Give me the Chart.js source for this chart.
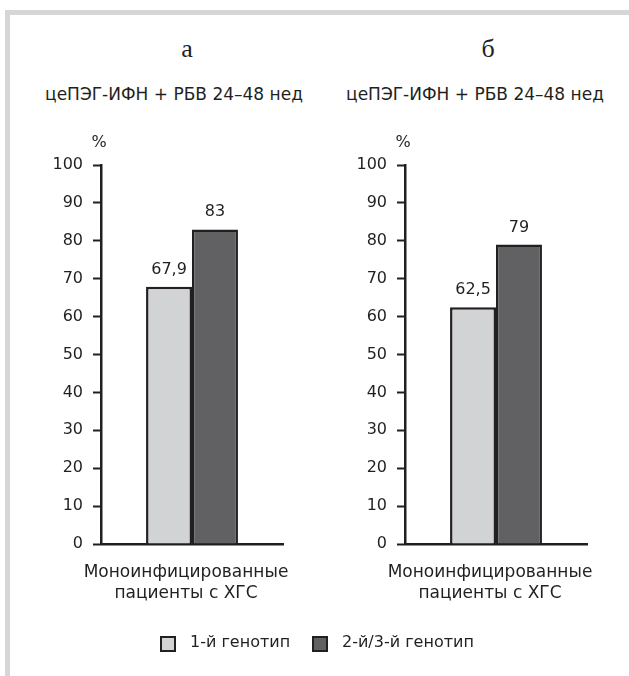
<!DOCTYPE html>
<html>
<head>
<meta charset="utf-8">
<script src="https://cdn.jsdelivr.net/npm/chart.js@4.4.1/dist/chart.umd.min.js"></script>
<style>
  body { margin: 0; background: #fff; }
  #page { position: relative; width: 629px; height: 676px; overflow: hidden; color: #231f20; font-family: "DejaVu Sans", sans-serif; }
  .frameTop { position: absolute; left: 5px; top: 10px; width: 624px; height: 5px; background: #d5d6d8; }
  .frameLeft { position: absolute; left: 5px; top: 10px; width: 5px; height: 666px; background: #d5d6d8; }
  .letter { position: absolute; top: 34px; width: 60px; text-align: center; font: 26px/29px "Liberation Serif", serif; }
  .title { position: absolute; top: 84px; width: 320px; text-align: center; font-size: 17px; line-height: 20px; white-space: nowrap; }
  canvas { position: absolute; top: 0; }
  #legend { position: absolute; left: 0; top: 632px; width: 629px; height: 20px; }
  .box { position: absolute; top: 4px; width: 12px; height: 12px; border: 2px solid #231f20; }
  .ltext { position: absolute; top: 0; font-size: 16px; line-height: 19px; white-space: nowrap; }
</style>
</head>
<body>
<div id="page">
  <div class="frameTop"></div>
  <div class="frameLeft"></div>
  <div class="letter" style="left:157px">а</div>
  <div class="letter" style="left:458px">б</div>
  <div class="title" style="left:14px">цеПЭГ-ИФН + РБВ 24–48 нед</div>
  <div class="title" style="left:315px">цеПЭГ-ИФН + РБВ 24–48 нед</div>
  <canvas id="chartA" width="300" height="676" style="left:0"></canvas>
  <canvas id="chartB" width="300" height="676" style="left:304px"></canvas>
  <div id="legend"></div>
</div>
<script>
const category = ['Моноинфицированные', 'пациенты с ХГС'];
const seriesNames = ['1-й генотип', '2-й/3-й генотип'];
const panelA = [67.9, 83];
const panelB = [62.5, 79];
const yTicks = [0, 10, 20, 30, 40, 50, 60, 70, 80, 90, 100];

const ink = '#231f20';
const fills = ['#d2d3d5', '#616163'];

// value over each bar, plus the "%" unit above the axis
const valueLabels = {
  id: 'valueLabels',
  afterDatasetsDraw(chart) {
    const ctx = chart.ctx;
    ctx.save();
    ctx.font = '16px "DejaVu Sans"';
    ctx.fillStyle = ink;
    ctx.textAlign = 'center';
    ctx.textBaseline = 'alphabetic';
    chart.data.datasets.forEach((ds, i) => {
      chart.getDatasetMeta(i).data.forEach((bar, j) => {
        ctx.fillText(String(ds.data[j]).replace('.', ','), bar.x, bar.y - 13);
      });
    });
    ctx.fillText('%', chart.chartArea.left - 2, chart.chartArea.top - 18);
    ctx.restore();
  }
};

function makeChart(id, values) {
  return new Chart(document.getElementById(id), {
    type: 'bar',
    data: {
      labels: [category],
      datasets: seriesNames.map((name, i) => ({
        label: name,
        data: [values[i]],
        backgroundColor: fills[i],
        borderColor: ink,
        borderWidth: 2.5,
        categoryPercentage: 0.505,
        barPercentage: 1
      }))
    },
    options: {
      responsive: false,
      animation: false,
      layout: { padding: { top: 165, left: 0, right: 17, bottom: 0 } },
      plugins: { legend: { display: false }, tooltip: { enabled: false } },
      scales: {
        x: {
          grid: { display: false, drawTicks: false },
          border: { color: ink, width: 2.5 },
          ticks: {
            color: ink,
            font: { family: 'DejaVu Sans', size: 17, lineHeight: 1.25 },
            padding: 18,
            labelOffset: -6,
            maxRotation: 0,
            autoSkip: false
          },
          afterFit(s) {
            s.height = 132;
            // the long label may overhang; keep the plot width fixed
            s.paddingLeft = 0;
            s.paddingRight = 0;
          }
        },
        y: {
          min: 0,
          max: 100,
          afterBuildTicks(s) { s.ticks = yTicks.map(v => ({ value: v })); },
          grid: { drawOnChartArea: false, drawTicks: true, tickLength: 8, tickColor: ink, tickWidth: 2 },
          border: { color: ink, width: 2.5 },
          ticks: { color: ink, font: { family: 'DejaVu Sans', size: 16 }, padding: 10 },
          afterFit(s) { s.width = 101; }
        }
      }
    },
    plugins: [valueLabels]
  });
}

makeChart('chartA', panelA);
makeChart('chartB', panelB);

// legend built from the series names
const legend = document.getElementById('legend');
const boxX = [160, 312];
seriesNames.forEach((name, i) => {
  const b = document.createElement('div');
  b.className = 'box';
  b.style.left = boxX[i] + 'px';
  b.style.background = fills[i];
  legend.appendChild(b);
  const t = document.createElement('div');
  t.className = 'ltext';
  t.style.left = (boxX[i] + 30) + 'px';
  t.textContent = name;
  legend.appendChild(t);
});
</script>
</body>
</html>
